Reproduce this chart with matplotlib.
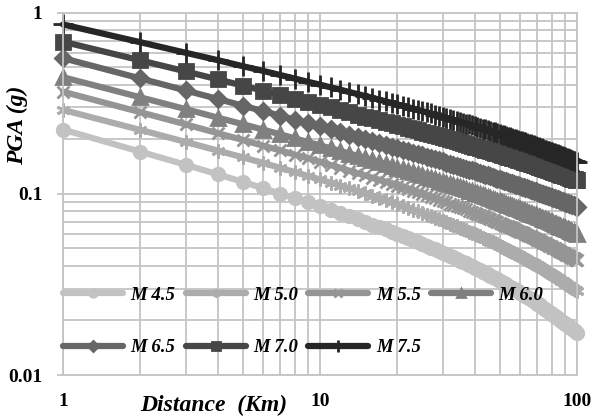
import matplotlib.pyplot as plt
from matplotlib.ticker import NullFormatter

# distance (km), one point per km
distance = list(range(1, 101))

m45 = [0.226, 0.1706, 0.1445, 0.128, 0.1164, 0.1074, 0.1002, 0.0944, 0.0895, 0.0852,
       0.0815, 0.0781, 0.0750, 0.0723, 0.0698, 0.0676, 0.0655, 0.0635, 0.0617, 0.0600,
       0.0584, 0.0569, 0.0555, 0.0541, 0.0528, 0.0516, 0.0505, 0.0494, 0.0483, 0.0473,
       0.0464, 0.0455, 0.0446, 0.0437, 0.0428, 0.0420, 0.0413, 0.0405, 0.0398, 0.0391,
       0.0385, 0.0378, 0.0372, 0.0365, 0.0359, 0.0353, 0.0348, 0.0342, 0.0337, 0.0331,
       0.0326, 0.0321, 0.0316, 0.0311, 0.0306, 0.0302, 0.0298, 0.0293, 0.0289, 0.0285,
       0.0281, 0.0277, 0.0273, 0.0269, 0.0265, 0.0262, 0.0258, 0.0255, 0.0251, 0.0248,
       0.0245, 0.0242, 0.0238, 0.0235, 0.0232, 0.0229, 0.0226, 0.0223, 0.0220, 0.0217,
       0.0214, 0.0212, 0.0209, 0.0207, 0.0204, 0.0202, 0.0199, 0.0197, 0.0194, 0.0192,
       0.0190, 0.0188, 0.0185, 0.0183, 0.0181, 0.0179, 0.0177, 0.0174, 0.0172, 0.0170]

m50 = [0.290, 0.2249, 0.1932, 0.1730, 0.1589, 0.1479, 0.1390, 0.1315, 0.1253, 0.1199,
       0.1151, 0.1109, 0.1071, 0.1035, 0.1005, 0.0975, 0.0948, 0.0923, 0.0898, 0.0877,
       0.0857, 0.0837, 0.0818, 0.0800, 0.0782, 0.0767, 0.0752, 0.0738, 0.0724, 0.0710,
       0.0697, 0.0684, 0.0672, 0.0660, 0.0649, 0.0639, 0.0628, 0.0618, 0.0608, 0.0598,
       0.0589, 0.0581, 0.0572, 0.0564, 0.0556, 0.0548, 0.0541, 0.0533, 0.0526, 0.0518,
       0.0511, 0.0504, 0.0498, 0.0491, 0.0484, 0.0478, 0.0472, 0.0466, 0.0460, 0.0454,
       0.0449, 0.0443, 0.0438, 0.0432, 0.0427, 0.0422, 0.0417, 0.0412, 0.0407, 0.0402,
       0.0397, 0.0393, 0.0388, 0.0384, 0.0379, 0.0375, 0.0371, 0.0366, 0.0362, 0.0358,
       0.0354, 0.0350, 0.0347, 0.0343, 0.0339, 0.0335, 0.0332, 0.0328, 0.0325, 0.0321,
       0.0318, 0.0315, 0.0311, 0.0308, 0.0305, 0.0302, 0.0299, 0.0296, 0.0293, 0.0290]

m55 = [0.3656, 0.2818, 0.2415, 0.2158, 0.1982, 0.1841, 0.1734, 0.1641, 0.1567, 0.1500,
       0.1439, 0.1390, 0.1340, 0.1297, 0.1262, 0.1225, 0.1194, 0.1164, 0.1135, 0.1109,
       0.1084, 0.1060, 0.1038, 0.1018, 0.0998, 0.0979, 0.0961, 0.0944, 0.0928, 0.0912,
       0.0897, 0.0883, 0.0869, 0.0856, 0.0843, 0.0831, 0.0819, 0.0807, 0.0796, 0.0785,
       0.0775, 0.0764, 0.0754, 0.0745, 0.0735, 0.0726, 0.0717, 0.0709, 0.0700, 0.0692,
       0.0684, 0.0676, 0.0668, 0.0661, 0.0653, 0.0646, 0.0639, 0.0632, 0.0625, 0.0618,
       0.0612, 0.0606, 0.0599, 0.0593, 0.0587, 0.0581, 0.0575, 0.0569, 0.0564, 0.0558,
       0.0553, 0.0548, 0.0542, 0.0537, 0.0532, 0.0527, 0.0522, 0.0518, 0.0513, 0.0508,
       0.0504, 0.0499, 0.0495, 0.0490, 0.0486, 0.0482, 0.0478, 0.0474, 0.0470, 0.0466,
       0.0462, 0.0458, 0.0455, 0.0451, 0.0447, 0.0443, 0.0440, 0.0436, 0.0433, 0.0429]

m60 = [0.4395, 0.3404, 0.2931, 0.2630, 0.2421, 0.2259, 0.2128, 0.2018, 0.1928, 0.1849,
       0.1782, 0.1722, 0.1667, 0.1618, 0.1574, 0.1531, 0.1493, 0.1459, 0.1426, 0.1393,
       0.1365, 0.1338, 0.1313, 0.1289, 0.1265, 0.1243, 0.1222, 0.1202, 0.1183, 0.1164,
       0.1147, 0.1130, 0.1114, 0.1099, 0.1084, 0.1070, 0.1056, 0.1042, 0.1029, 0.1016,
       0.1004, 0.0992, 0.0980, 0.0968, 0.0957, 0.0947, 0.0937, 0.0927, 0.0917, 0.0908,
       0.0899, 0.0890, 0.0881, 0.0872, 0.0863, 0.0855, 0.0846, 0.0838, 0.0830, 0.0822,
       0.0815, 0.0807, 0.0799, 0.0792, 0.0785, 0.0778, 0.0772, 0.0765, 0.0759, 0.0753,
       0.0747, 0.0741, 0.0735, 0.0729, 0.0723, 0.0717, 0.0712, 0.0706, 0.0701, 0.0695,
       0.0690, 0.0684, 0.0679, 0.0673, 0.0668, 0.0663, 0.0658, 0.0654, 0.0649, 0.0644,
       0.0639, 0.0635, 0.0630, 0.0626, 0.0621, 0.0617, 0.0613, 0.0608, 0.0604, 0.0600]

m65 = [0.5598, 0.4325, 0.3715, 0.3334, 0.3062, 0.2858, 0.2692, 0.2559, 0.2449, 0.2350,
       0.2265, 0.2188, 0.2118, 0.2061, 0.2004, 0.1950, 0.1905, 0.1862, 0.1820, 0.1782,
       0.1747, 0.1714, 0.1684, 0.1654, 0.1626, 0.1600, 0.1575, 0.1552, 0.1529, 0.1507,
       0.1486, 0.1466, 0.1446, 0.1427, 0.1409, 0.1392, 0.1376, 0.1360, 0.1345, 0.1330,
       0.1316, 0.1302, 0.1288, 0.1275, 0.1262, 0.1250, 0.1237, 0.1225, 0.1213, 0.1202,
       0.1192, 0.1181, 0.1171, 0.1161, 0.1151, 0.1141, 0.1132, 0.1122, 0.1113, 0.1104,
       0.1095, 0.1087, 0.1078, 0.1070, 0.1062, 0.1054, 0.1046, 0.1038, 0.1031, 0.1023,
       0.1016, 0.1009, 0.1002, 0.0996, 0.0989, 0.0982, 0.0976, 0.0969, 0.0963, 0.0957,
       0.0951, 0.0945, 0.0939, 0.0933, 0.0927, 0.0921, 0.0916, 0.0910, 0.0905, 0.0899,
       0.0894, 0.0889, 0.0883, 0.0878, 0.0873, 0.0868, 0.0863, 0.0858, 0.0854, 0.0849]

m70 = [0.6902, 0.5445, 0.4732, 0.4276, 0.3954, 0.3707, 0.3516, 0.3350, 0.3214, 0.3090,
       0.2992, 0.2897, 0.2812, 0.2735, 0.2667, 0.2606, 0.2547, 0.2495, 0.2443, 0.2399,
       0.2355, 0.2313, 0.2273, 0.2235, 0.2198, 0.2165, 0.2133, 0.2103, 0.2074, 0.2046,
       0.2020, 0.1994, 0.1970, 0.1946, 0.1923, 0.1901, 0.1880, 0.1859, 0.1839, 0.1820,
       0.1802, 0.1784, 0.1767, 0.1750, 0.1734, 0.1718, 0.1702, 0.1686, 0.1671, 0.1656,
       0.1642, 0.1628, 0.1615, 0.1602, 0.1589, 0.1577, 0.1565, 0.1552, 0.1540, 0.1528,
       0.1517, 0.1505, 0.1494, 0.1483, 0.1472, 0.1462, 0.1452, 0.1442, 0.1432, 0.1422,
       0.1412, 0.1402, 0.1393, 0.1383, 0.1374, 0.1365, 0.1356, 0.1347, 0.1339, 0.1330,
       0.1322, 0.1314, 0.1306, 0.1298, 0.1291, 0.1284, 0.1277, 0.1270, 0.1263, 0.1256,
       0.1249, 0.1241, 0.1234, 0.1226, 0.1219, 0.1213, 0.1207, 0.1201, 0.1195, 0.1189]

m75 = [0.8590, 0.6855, 0.5998, 0.5458, 0.5058, 0.4764, 0.4519, 0.4315, 0.4140, 0.3999,
       0.3864, 0.3750, 0.3639, 0.3548, 0.3459, 0.3381, 0.3304, 0.3236, 0.3170, 0.3112,
       0.3057, 0.3004, 0.2953, 0.2905, 0.2858, 0.2815, 0.2775, 0.2736, 0.2698, 0.2661,
       0.2626, 0.2592, 0.2559, 0.2527, 0.2495, 0.2466, 0.2438, 0.2411, 0.2385, 0.2360,
       0.2336, 0.2312, 0.2289, 0.2266, 0.2244, 0.2222, 0.2201, 0.2179, 0.2158, 0.2138,
       0.2119, 0.2101, 0.2082, 0.2064, 0.2046, 0.2029, 0.2012, 0.1996, 0.1979, 0.1963,
       0.1948, 0.1933, 0.1918, 0.1903, 0.1888, 0.1874, 0.1861, 0.1847, 0.1834, 0.1820,
       0.1807, 0.1794, 0.1780, 0.1767, 0.1754, 0.1743, 0.1732, 0.1720, 0.1709, 0.1698,
       0.1687, 0.1675, 0.1664, 0.1652, 0.1641, 0.1631, 0.1621, 0.1611, 0.1602, 0.1592,
       0.1582, 0.1572, 0.1562, 0.1552, 0.1542, 0.1533, 0.1524, 0.1514, 0.1505, 0.1496]

labels = ['M 4.5', 'M 5.0', 'M 5.5', 'M 6.0', 'M 6.5', 'M 7.0', 'M 7.5']
series = [m45, m50, m55, m60, m65, m70, m75]

colors = ['#c2c2c2', '#acacac', '#959595', '#808080', '#666666', '#464646', '#262626']
markers = ['o', (6, 2, 0), 'x', '^', 'D', 's', '+']
msizes = [9, 10, 9, 10, 8, 10, 14]

serif = 'Liberation Serif'
grid_col = '#c4c4c4'

fig = plt.figure(figsize=(5.91, 4.16), dpi=100)
ax = fig.add_axes([63 / 591, 1 - 375 / 416, 514 / 591, 362.5 / 416])

handles = []
for vals, lab, c, mk, ms in zip(series, labels, colors, markers, msizes):
    h, = ax.plot(distance, vals, color=c, lw=4.5, marker=mk, ms=ms,
                 mfc=c, mec=c, mew=2, label=lab, clip_on=False,
                 solid_capstyle='round')
    handles.append(h)

ax.set_xscale('log')
ax.set_yscale('log')
ax.set_xlim(1, 100)
ax.set_ylim(0.01, 1)

ax.set_axisbelow(True)
ax.grid(True, which='both', color=grid_col, lw=1.3)
for s in ax.spines.values():
    s.set_color(grid_col)
    s.set_linewidth(1.3)

ax.set_xticks([1, 10, 100])
ax.set_xticklabels(['1', '10', '100'])
ax.set_yticks([0.01, 0.1, 1])
ax.set_yticklabels(['0.01', '0.1', '1'])
ax.xaxis.set_minor_formatter(NullFormatter())
ax.yaxis.set_minor_formatter(NullFormatter())
ax.tick_params(axis='x', which='both', length=0, pad=13)
ax.tick_params(axis='y', which='major', length=4, color=grid_col, width=1.3, pad=11)
ax.tick_params(axis='y', which='minor', length=0)
for t in ax.get_xticklabels() + ax.get_yticklabels():
    t.set_fontfamily(serif)
    t.set_fontweight('bold')
    t.set_fontsize(14)

fig.text(214 / 591, 1 - 405 / 416, 'Distance  (Km)', ha='center', va='center',
         family=serif, weight='bold', style='italic', fontsize=17)
fig.text(17 / 591, 1 - 125 / 416, 'PGA (g)', ha='center', va='center', rotation=90,
         family=serif, weight='bold', style='italic', fontsize=17)

# row-major order for a 4-column legend
order = [0, 4, 1, 5, 2, 6, 3]
ax.legend([handles[i] for i in order], [labels[i] for i in order],
          ncol=4, loc='upper left', bbox_to_anchor=(0, 0.244),
          frameon=False, borderpad=0, borderaxespad=0,
          handlelength=3.2, handletextpad=0.4, columnspacing=0.55,
          labelspacing=1.9, markerscale=0.6,
          prop={'family': serif, 'weight': 'bold', 'style': 'italic', 'size': 13.5})

fig.savefig('out.png', dpi=100)
